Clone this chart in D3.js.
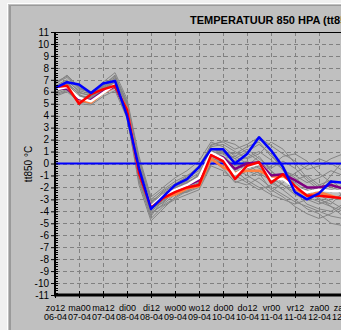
<!DOCTYPE html>
<html><head><meta charset="utf-8">
<script src="https://cdn.jsdelivr.net/npm/d3@7"></script>
<style>
html,body{margin:0;padding:0;background:#f0f0f0;overflow:hidden;}
svg{display:block;}
text{font-family:"Liberation Sans",Arial,sans-serif;}
</style></head><body>
<svg id="c" width="341" height="330"></svg>
<script>
// Tick labels (every 12 h)
const tickDay = ["zo12","ma00","ma12","di00","di12","wo00","wo12","do00","do12","vr00","vr12","za00","za12"];
const tickDate = ["06-04","07-04","07-04","08-04","08-04","09-04","09-04","10-04","10-04","11-04","11-04","12-04","12-04"];
const yTicks = d3.range(-11, 12);

// Series, 6-hourly (25 steps)
const seriesBlue   = [6.3,6.8,6.6,5.9,6.7,6.9,4.0,-0.4,-3.8,-2.8,-1.8,-1.3,-0.3,1.2,1.2,0.0,0.8,2.2,1.1,-0.3,-2.4,-3.0,-2.5,-1.5,-1.6];
const seriesRed    = [6.4,6.5,5.0,5.8,6.2,6.5,4.5,-0.8,-3.7,-2.9,-2.4,-2.0,-1.8,0.7,0.2,-1.3,-0.2,0.1,-1.6,-0.9,-1.9,-2.7,-2.7,-2.8,-2.9];
const seriesWhite  = [6.2,6.4,5.5,5.2,5.9,6.6,4.4,-0.7,-3.6,-2.7,-2.2,-1.8,-1.2,0.9,0.4,-0.9,-0.3,0.0,-1.3,-1.3,-2.0,-2.4,-2.2,-2.3,-2.3];
const seriesPurple = [6.3,6.25,5.4,5.3,6.0,6.45,4.4,-0.8,-3.6,-2.8,-2.2,-1.8,-1.4,0.8,0.5,-0.45,0.0,0.1,-1.0,-0.9,-1.4,-2.0,-2.0,-1.8,-2.1];
const seriesOrange = [6.4,6.5,5.3,5.1,5.9,6.4,4.6,-0.8,-3.7,-2.9,-2.6,-2.1,-1.9,0.4,-0.3,-0.8,-0.6,-0.6,-1.1,-1.1,-2.1,-2.7,-2.4,-2.7,-3.0];

const m1  = [6.0,6.6,5.6,5.4,6.2,6.8,4.8,-0.5,-3.4,-2.5,-2.0,-1.6,-1.0,1.0,0.8,0.2,0.5,1.0,0.3,-0.5,-1.2,-2.0,-2.5,-2.8,-3.0];
const m2  = [6.5,7.0,6.0,5.6,6.5,7.2,5.0,0.2,-3.0,-2.2,-1.5,-1.0,-0.4,1.6,1.8,1.2,1.6,2.2,1.5,0.8,0.2,-0.5,-0.2,0.4,0.8];
const m3  = [5.8,6.2,5.0,4.9,5.6,6.1,3.8,-1.5,-4.6,-3.6,-3.0,-2.6,-2.2,-0.2,-0.6,-1.5,-1.8,-1.2,-2.0,-2.6,-3.2,-3.6,-4.0,-4.4,-4.6];
const m4  = [6.2,6.8,5.8,5.2,6.0,6.6,4.2,-1.0,-4.0,-3.2,-2.4,-2.0,-1.6,0.5,0.0,-0.8,-0.2,0.6,-0.6,-1.8,-2.6,-3.0,-3.4,-3.0,-2.6];
const m5  = [6.6,7.4,6.4,5.8,6.8,7.6,5.4,0.6,-2.8,-2.0,-1.2,-0.6,0.2,1.8,1.4,0.6,0.0,-0.8,-1.4,-2.2,-3.0,-3.8,-4.2,-5.0,-5.2];
const m6  = [5.6,6.0,5.2,5.0,5.8,6.4,4.0,-1.8,-4.8,-3.8,-2.8,-2.2,-1.8,0.2,0.6,-0.4,-1.0,-1.6,-2.4,-1.6,-0.8,-0.2,0.4,0.0,-0.6];
const m7  = [6.4,6.9,5.4,5.5,6.4,7.0,4.6,-0.4,-3.6,-2.6,-2.2,-1.4,-0.8,1.2,1.0,0.8,1.4,1.8,0.6,-0.2,-1.8,-2.8,-3.2,-3.6,-4.0];
const m8  = [6.1,6.5,5.5,5.3,6.1,6.5,4.4,-0.9,-3.9,-3.0,-2.6,-2.4,-2.0,0.0,0.2,-1.2,-0.6,-0.2,-1.6,-2.2,-1.4,-1.0,-1.8,-2.4,-2.0];
const m9  = [6.3,6.7,5.9,5.7,6.3,6.9,4.9,-0.2,-3.2,-2.4,-1.8,-1.2,-0.6,1.4,1.6,1.0,0.4,0.8,1.8,1.2,0.0,-1.2,-2.0,-2.2,-1.8];
const m10 = [5.9,6.4,5.3,5.1,5.9,6.3,4.1,-1.2,-4.2,-3.4,-2.6,-2.0,-1.4,0.6,0.4,-0.6,-1.4,-2.0,-2.6,-3.0,-3.4,-3.0,-2.6,-3.2,-3.8];
const m11 = [6.7,7.2,6.2,6.0,6.6,7.3,5.2,0.4,-3.0,-2.8,-2.0,-1.8,-1.0,0.8,1.2,0.4,1.0,1.6,0.8,-0.6,-1.0,-1.6,-1.2,-0.6,-1.0];
const m12 = [6.0,6.3,5.1,5.2,5.9,6.6,4.5,-0.6,-3.7,-3.3,-2.3,-2.4,-1.6,0.3,-0.4,-1.6,-1.2,-0.6,-1.2,-1.8,-2.4,-3.4,-3.8,-4.0,-3.4];
const m13 = [6.4,6.6,5.7,5.5,6.2,6.8,4.7,-0.3,-3.5,-2.7,-1.9,-1.5,-1.2,1.1,0.6,-0.2,0.2,-0.4,-1.0,-1.2,-2.2,-2.6,-1.8,-1.4,-2.2];
const m14 = [6.2,6.5,5.4,5.3,6.0,6.7,4.3,-1.4,-4.4,-3.0,-2.4,-1.8,-1.4,0.6,1.0,0.0,-0.6,-1.0,-0.2,0.6,0.8,0.2,-0.8,-1.6,-2.8];
const m15 = [6.1,6.9,6.1,5.8,6.5,7.4,5.1,0.0,-3.3,-2.3,-1.7,-1.1,-0.2,1.5,1.9,1.6,0.9,0.2,-0.6,-1.4,-2.0,-2.2,-2.9,-3.6,-4.4];
const m16 = [5.7,6.1,5.3,5.4,6.1,6.5,4.6,-1.1,-4.1,-3.5,-2.9,-2.3,-1.9,-0.1,0.4,0.6,1.2,0.4,-0.4,0.2,-0.4,-1.4,-2.2,-1.0,0.2];
const m17 = [6.8,7.3,6.3,5.9,6.4,7.1,4.8,-0.6,-3.8,-3.1,-2.5,-1.7,-0.9,0.9,0.2,-1.0,-1.6,-2.2,-1.8,-1.0,-1.6,-2.4,-3.0,-3.4,-2.4];
const m18 = [6.0,6.4,5.6,5.6,6.3,6.9,4.4,-0.7,-3.6,-2.9,-2.1,-1.6,-1.1,1.3,0.9,0.4,-0.4,-0.8,-2.2,-2.8,-3.6,-4.2,-4.6,-4.2,-3.6];
const members = [m1,m2,m3,m4,m5,m6,m7,m8,m9,m10,m11,m12,m13,m14,m15,m16,m17,m18];

const svg = d3.select("#c");
// panel frame
svg.append("rect").attr("x",7).attr("y",3).attr("width",340).attr("height",330).attr("fill","#c0c0c0");
svg.append("line").attr("x1",7.5).attr("x2",7.5).attr("y1",3).attr("y2",330).attr("stroke","#ffffff");
svg.append("line").attr("x1",7).attr("x2",341).attr("y1",3.5).attr("y2",3.5).attr("stroke","#ffffff");
svg.append("line").attr("x1",10).attr("x2",10).attr("y1",5).attr("y2",330).attr("stroke","#9a9a9a").attr("stroke-width",2);
svg.append("line").attr("x1",9).attr("x2",341).attr("y1",5.5).attr("y2",5.5).attr("stroke","#9a9a9a");

const x = d3.scaleLinear().domain([0,24]).range([55,343]);
const y = d3.scaleLinear().domain([-11,11]).range([295,32]);

// grid
const g = svg.append("g");
g.selectAll("line.h").data(yTicks.filter(v=>v>-11&&v<11)).join("line")
  .attr("x1",56).attr("x2",341).attr("y1",d=>Math.round(y(d))+0.5).attr("y2",d=>Math.round(y(d))+0.5)
  .attr("stroke","#808080").attr("stroke-dasharray","4,3");
g.selectAll("line.v").data(d3.range(2,26,2)).join("line")
  .attr("x1",d=>Math.round(x(d))+0.5).attr("x2",d=>Math.round(x(d))+0.5).attr("y1",32).attr("y2",293)
  .attr("stroke","#808080").attr("stroke-dasharray","4,3");

// top border
svg.append("line").attr("x1",55).attr("x2",341).attr("y1",32.5).attr("y2",32.5).attr("stroke","#000");

const line = d3.line().x((d,i)=>x(i)).y(d=>y(d));
svg.append("clipPath").attr("id","pc").append("rect").attr("x",56).attr("y",32).attr("width",290).attr("height",262);
const pg = svg.append("g").attr("clip-path","url(#pc)");
pg.selectAll("path.m").data(members).join("path").attr("d",line)
  .attr("fill","none").attr("stroke","#858585").attr("stroke-width",1);
// zero line
pg.append("line").attr("x1",55).attr("x2",341).attr("y1",y(0)).attr("y2",y(0)).attr("stroke","#0000ff").attr("stroke-width",2);
const main = [[seriesOrange,"#ff7f40"],[seriesPurple,"#800080"],[seriesWhite,"#ffffff"],[seriesRed,"#ff0000"],[seriesBlue,"#0000ff"]];
main.forEach(([s,c])=>{
  pg.append("path").attr("d",line(s)).attr("fill","none").attr("stroke",c).attr("stroke-width",2.5).attr("stroke-linejoin","round");
});

// y axis
const yAxis = d3.axisLeft(y).tickValues(yTicks).tickSize(4).tickPadding(2).tickFormat(d=>d);
const ya = svg.append("g").attr("transform","translate(55,0)").call(yAxis);
ya.select(".domain").remove();
ya.selectAll(".tick line").attr("x1",-4).attr("x2",3).attr("stroke","#000");
ya.selectAll("text").attr("font-size",10).attr("fill","#000").attr("x",-6);
svg.selectAll("line.minor").data(d3.range(-110,111,2).filter(v=>v%10!==0)).join("line")
  .attr("x1",55).attr("x2",58).attr("y1",d=>Math.round(y(d/10))+0.5).attr("y2",d=>Math.round(y(d/10))+0.5)
  .attr("stroke","#000");
svg.append("line").attr("x1",55).attr("x2",55).attr("y1",32).attr("y2",296).attr("stroke","#000").attr("stroke-width",2);

// x axis
const xAxis = d3.axisBottom(x).tickValues(d3.range(0,25,2)).tickSize(4).tickFormat(()=>"");
const xa = svg.append("g").attr("transform","translate(0,295)").call(xAxis);
xa.select(".domain").remove();
xa.selectAll(".tick line").attr("y1",-4).attr("y2",3).attr("stroke","#000");
xa.selectAll(".tick").each(function(d,i){
  const t = d3.select(this);
  t.append("text").attr("y",16).attr("text-anchor","middle").attr("font-size",9).attr("fill","#000").text(tickDay[i]);
  t.append("text").attr("y",25).attr("text-anchor","middle").attr("font-size",9).attr("fill","#000").text(tickDate[i]);
});
svg.append("line").attr("x1",54).attr("x2",341).attr("y1",295).attr("y2",295).attr("stroke","#000").attr("stroke-width",3);

// titles
svg.append("text").attr("x",190).attr("y",24).attr("font-size",11).attr("font-weight","bold").attr("fill","#000")
  .text("TEMPERATUUR 850 HPA (tt850)");
svg.append("text").attr("transform","translate(32,164) rotate(-90)").attr("text-anchor","middle")
  .attr("font-size",10).attr("fill","#000").text("tt850 °C");
</script>
</body></html>
